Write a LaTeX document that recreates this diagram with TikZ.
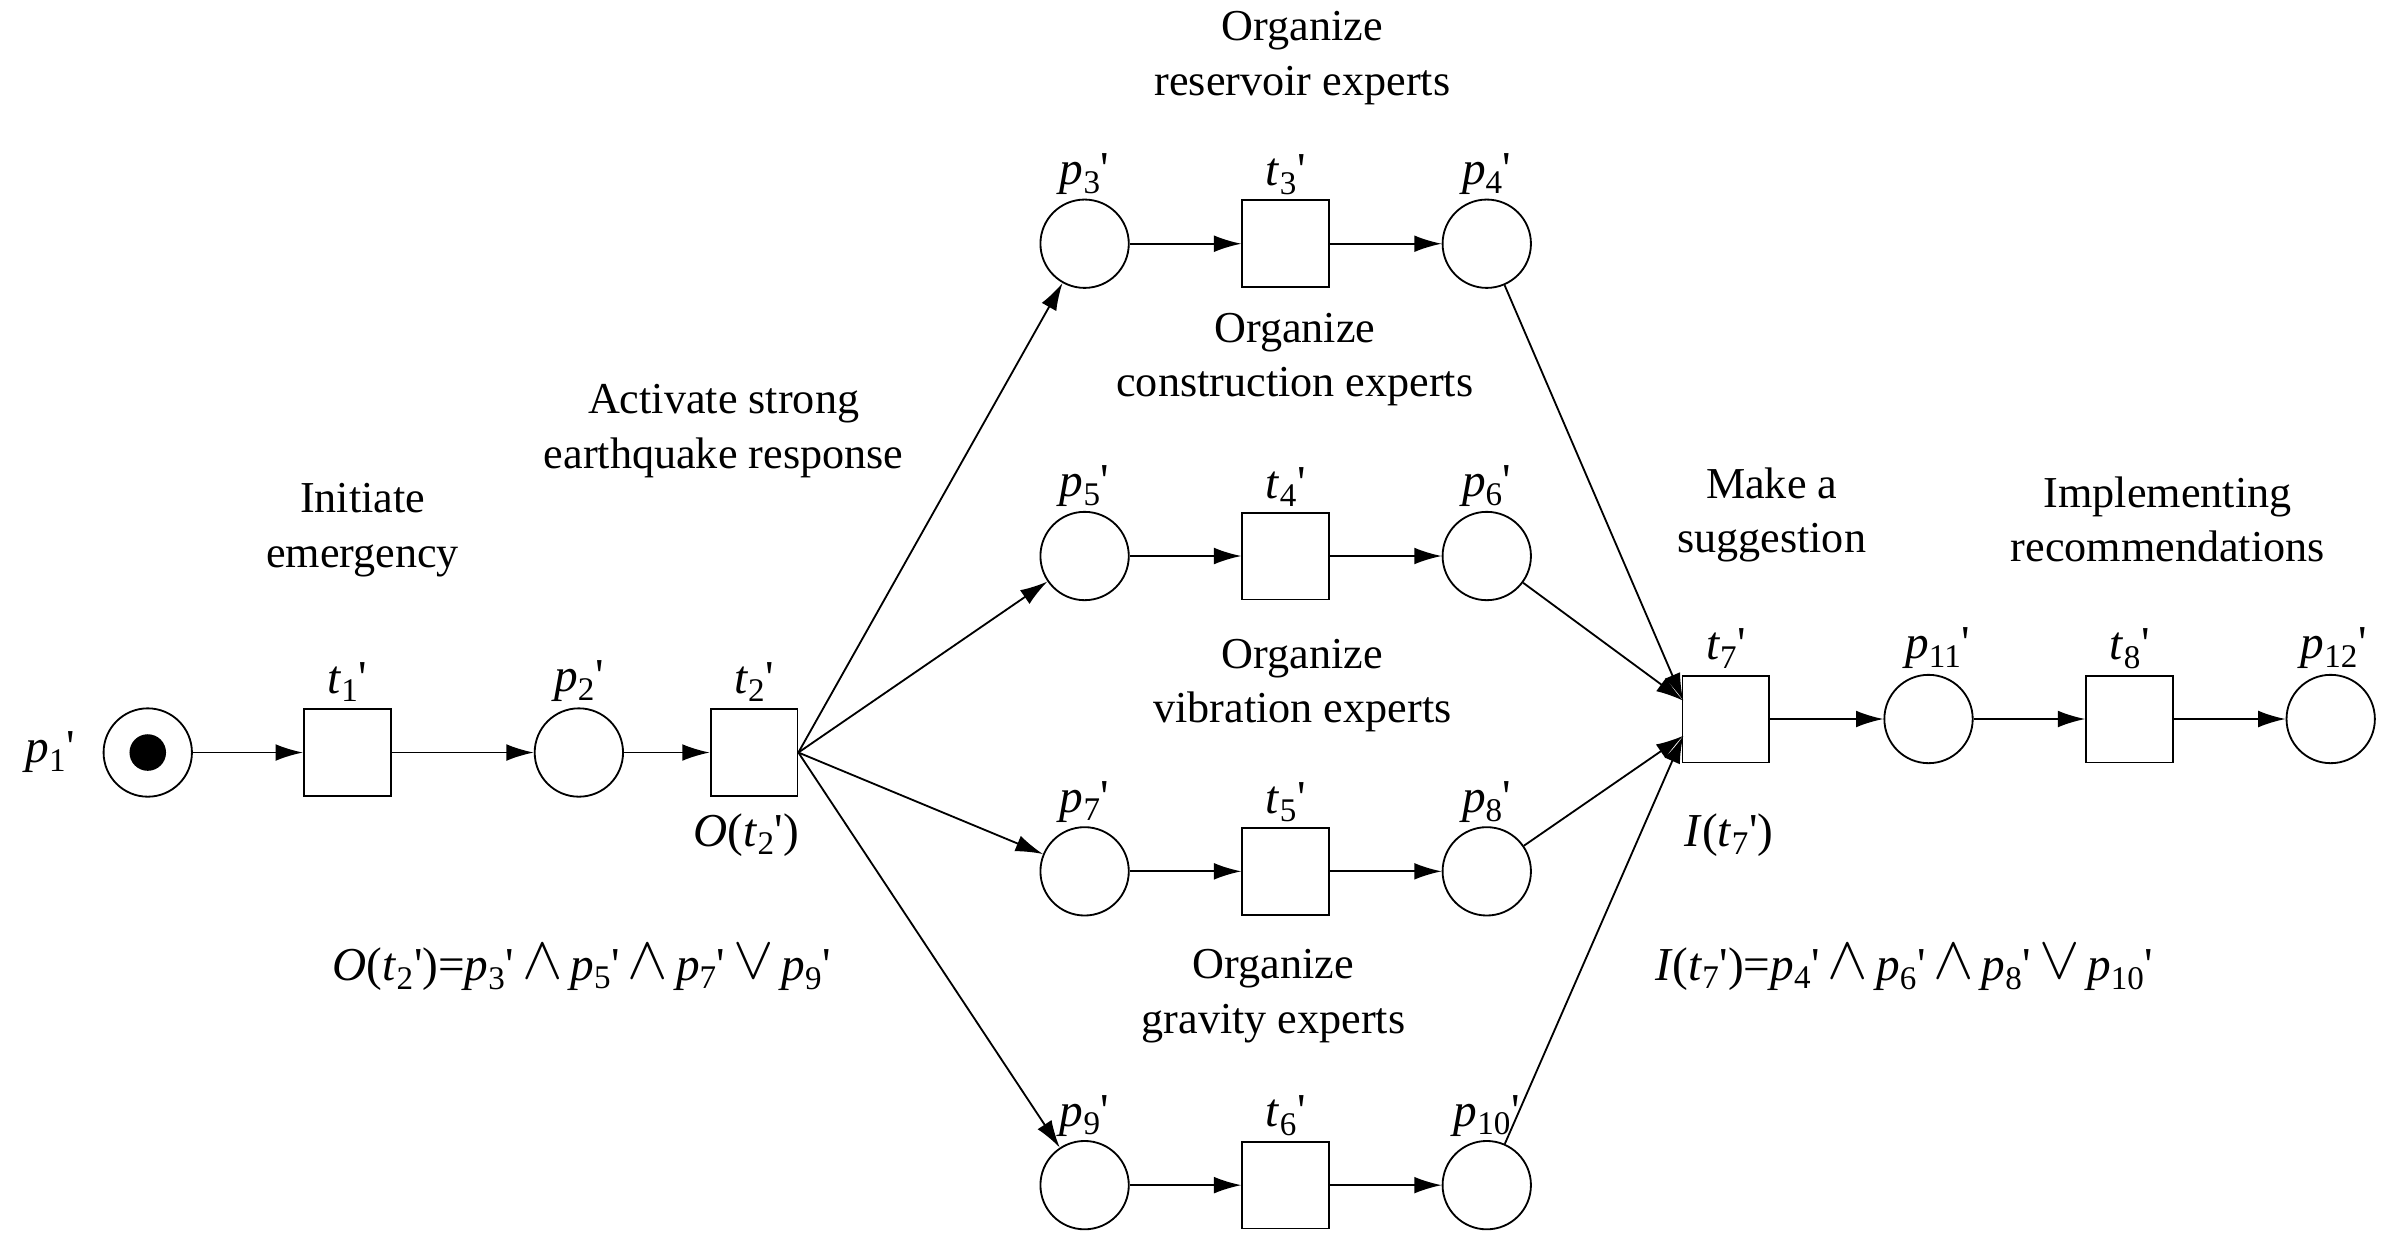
\documentclass[tikz,border=0pt]{standalone}
\usepackage{fontspec}
\usepackage{graphicx}
\setmainfont{Liberation Serif}
\usetikzlibrary{arrows.meta}
\newcommand{\pr}{\textquotesingle}
\newcommand{\lab}[2]{\textit{#1}\textsubscript{#2}\pr}
\newcommand{\myand}{\,\raisebox{0.1ex}{\scalebox{1.6}{$\wedge$}}\,}
\newcommand{\myor}{\,\raisebox{0.1ex}{\scalebox{1.6}{$\vee$}}\,}
\begin{document}
\begin{tikzpicture}[x=1pt,y=-1pt,
 pl/.style={circle,draw,line width=1.2pt,minimum size=58pt,inner sep=0pt},
 tr/.style={rectangle,draw,line width=1.2pt,minimum size=57pt,inner sep=0pt},
 lb/.style={font=\fontsize{31}{36}\selectfont},
 ab/.style={lb,anchor=south,inner sep=2pt},
 tx/.style={font=\fontsize{29}{36}\selectfont,align=center},
 ar/.style={line width=1.2pt,-{Latex[length=18pt,width=11pt]}}]
\useasboundingbox (0,0) rectangle (1565,810);
\node[pl] (p1) at (97,494) {};
\fill (p1) circle (12pt);
\node[tr] (t1) at (228,494) {};
\node[pl] (p2) at (380,494) {};
\node[tr] (t2) at (495,494) {};
\foreach \a/\b/\c/\y in {3/3/4/160,5/4/6/365,7/5/8/572,9/6/10/778}{
 \node[pl] (p\a) at (712,\y) {};
 \node[tr] (t\b) at (844,\y) {};
 \node[pl] (p\c) at (976,\y) {};
 \node[ab] at (712,\y-30) {\lab{p}{\a}};
 \node[ab] at (844,\y-30) {\lab{t}{\b}};
 \node[ab] at (976,\y-30) {\lab{p}{\c}};
 \draw[ar] (p\a) -- (t\b);
 \draw[ar] (t\b) -- (p\c);
 \draw[ar] (t2.east) -- (p\a);
}
\node[tr] (t7) at (1133,472) {};
\node[pl] (p11) at (1266,472) {};
\node[tr] (t8) at (1398,472) {};
\node[pl] (p12) at (1530,472) {};
\coordinate (ina) at (1105,460);
\coordinate (inb) at (1105,483);
\draw[ar] (p4) -- (ina);
\draw[ar] (p6) -- (ina);
\draw[ar] (p8) -- (inb);
\draw[ar] (p10) -- (inb);
\draw[ar] (p1) -- (t1);
\draw[ar] (t1) -- (p2);
\draw[ar] (p2) -- (t2);
\draw[ar] (t7) -- (p11);
\draw[ar] (p11) -- (t8);
\draw[ar] (t8) -- (p12);
\node[lb] at (33,494) {\lab{p}{1}};
\node[ab] at (228,463) {\lab{t}{1}};
\node[ab] at (380,463) {\lab{p}{2}};
\node[ab] at (495,463) {\lab{t}{2}};
\node[lb] at (490,548) {\textit{O}(\lab{t}{2})};
\node[ab] at (1133,441) {\lab{t}{7}};
\node[ab] at (1272,441) {\lab{p}{11}};
\node[ab] at (1398,441) {\lab{t}{8}};
\node[ab] at (1532,441) {\lab{p}{12}};
\node[lb] at (1135,548) {\textit{I}(\lab{t}{7})};
\node[lb] at (382,635) {\textit{O}(\lab{t}{2})=\lab{p}{3}\myand\lab{p}{5}\myand\lab{p}{7}\myor\lab{p}{9}};
\node[lb] at (1250,635) {\textit{I}(\lab{t}{7})=\lab{p}{4}\myand\lab{p}{6}\myand\lab{p}{8}\myor\lab{p}{10}};
\node[tx] at (855,38) {Organize\\reservoir experts};
\node[tx] at (850,236) {Organize\\construction experts};
\node[tx] at (855,450) {Organize\\vibration experts};
\node[tx] at (836,654) {Organize\\gravity experts};
\node[tx] at (475,283) {Activate strong\\earthquake response};
\node[tx] at (238,348) {Initiate\\emergency};
\node[tx] at (1163,338) {Make a\\suggestion};
\node[tx] at (1423,341) {Implementing\\recommendations};
\end{tikzpicture}
\end{document}
